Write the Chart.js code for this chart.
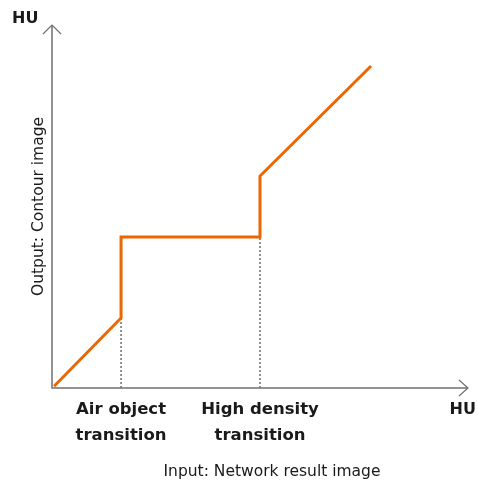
<!DOCTYPE html>
<html>
<head>
<meta charset="utf-8">
<script src="https://cdn.jsdelivr.net/npm/chart.js@4.4.0/dist/chart.umd.min.js"></script>
<style>
  html, body { margin: 0; padding: 0; background: #fff; }
</style>
</head>
<body>
<canvas id="grafica" width="478" height="484"></canvas>
<script>
// Datos de la curva (unidades HU relativas, 0-100)
const inputHU = [0.5, 16.6, 16.6, 50, 50, 76.7];
const outputHU = [0.5, 19.3, 41.6, 41.6, 58.4, 88.7];
// Transiciones: valor de entrada y de salida donde cae la línea punteada
const transitionIn = [16.6, 50];
const transitionOut = [19.3, 41.6];
const transitionLabels = [['Air object', 'transition'], ['High density', 'transition']];

const naranja = '#ec6602';
const gris = '#707070';
const texto = '#1a1a1a';
const fuente = '"DejaVu Sans", sans-serif';

// Línea principal
let curva = inputHU.map(function (x, i) { return { x: x, y: outputHU[i] }; });

// Líneas punteadas verticales hasta el eje
let punteadas = transitionIn.map(function (x, i) {
    return {
        data: [{ x: x, y: 0 }, { x: x, y: transitionOut[i] }],
        borderColor: '#222',
        borderWidth: 1,
        borderDash: [2, 2],
        pointRadius: 0,
        fill: false
    };
});

// Plugin para los ejes con flecha y los textos sueltos
const ejes = {
    id: 'ejes',
    afterDraw: function (chart) {
        let ctx = chart.ctx;
        let a = chart.chartArea;
        ctx.save();
        ctx.strokeStyle = gris;
        ctx.lineWidth = 1.5;
        ctx.beginPath();
        ctx.moveTo(a.left, a.top);
        ctx.lineTo(a.left, a.bottom);
        ctx.lineTo(a.right, a.bottom);
        ctx.stroke();
        ctx.lineWidth = 1.2;
        // flecha arriba
        ctx.beginPath();
        ctx.moveTo(a.left - 9, a.top + 9);
        ctx.lineTo(a.left, a.top);
        ctx.lineTo(a.left + 9, a.top + 9);
        ctx.stroke();
        // flecha derecha
        ctx.beginPath();
        ctx.moveTo(a.right - 9, a.bottom - 8);
        ctx.lineTo(a.right, a.bottom);
        ctx.lineTo(a.right - 9, a.bottom + 8);
        ctx.stroke();

        ctx.fillStyle = texto;
        ctx.textBaseline = 'middle';
        ctx.font = 'bold 16px ' + fuente;
        ctx.textAlign = 'left';
        ctx.fillText('HU', 12, 19);
        ctx.textAlign = 'right';
        ctx.fillText('HU', 476, 410);

        ctx.font = '15.5px ' + fuente;
        ctx.textAlign = 'center';
        ctx.fillText('Input: Network result image', 272, 472);
        ctx.restore();
    }
};

new Chart(document.getElementById('grafica'), {
    type: 'line',
    data: {
        datasets: [{
            data: curva,
            borderColor: naranja,
            borderWidth: 3,
            pointRadius: 0,
            tension: 0,
            fill: false,
            borderJoinStyle: 'miter'
        }].concat(punteadas)
    },
    options: {
        responsive: false,
        animation: false,
        events: [],
        layout: { padding: { left: 27, top: 25, right: 10, bottom: 0 } },
        plugins: {
            legend: { display: false },
            tooltip: { enabled: false }
        },
        scales: {
            x: {
                type: 'linear',
                min: 0,
                max: 100,
                grid: { display: false, drawTicks: false },
                border: { display: false },
                afterBuildTicks: function (s) {
                    s.ticks = transitionIn.map(function (v) { return { value: v }; });
                },
                afterFit: function (s) { s.height = 96; },
                ticks: {
                    autoSkip: false,
                    maxRotation: 0,
                    padding: 9,
                    color: texto,
                    font: { family: fuente, size: 16.5, weight: 'bold', lineHeight: 1.58 },
                    callback: function (v, i) { return transitionLabels[i]; }
                }
            },
            y: {
                min: 0,
                max: 100,
                grid: { display: false, drawTicks: false },
                border: { display: false },
                ticks: { display: false },
                afterFit: function (s) { s.width = 25; },
                title: {
                    display: true,
                    text: 'Output: Contour image',
                    color: texto,
                    font: { family: fuente, size: 15.5 },
                    padding: { top: 3, bottom: 2 }
                }
            }
        }
    },
    plugins: [ejes]
});
</script>
</body>
</html>
